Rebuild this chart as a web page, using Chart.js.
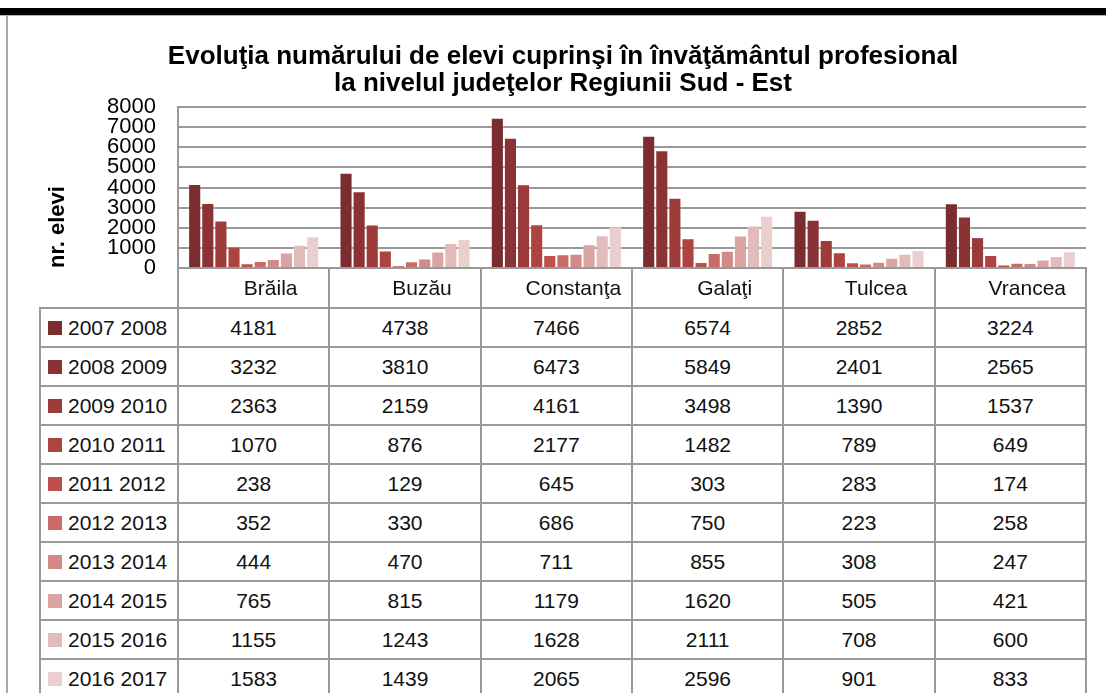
<!DOCTYPE html>
<html lang="ro">
<head>
<meta charset="utf-8">
<title>Evoluţia numărului de elevi</title>
<script src="https://cdn.jsdelivr.net/npm/chart.js@4.4.1/dist/chart.umd.min.js"></script>
<style>
  html, body { margin: 0; padding: 0; background: #fff; }
  #wrap { position: relative; width: 1106px; height: 693px; overflow: hidden; background: #fff; }
  #topbar { position: absolute; left: 0; top: 8px; width: 1106px; height: 7px; background: #000; }
  #topline { position: absolute; left: 0; top: 15px; width: 1106px; height: 1px; background: #b4b4b4; }
  #frame { position: absolute; left: 6px; top: 16px; width: 2px; height: 677px; background: #a8a8a8; }
  canvas { position: absolute; left: 0; top: 0; }
  #table { position: absolute; display: grid; gap: 2px; padding: 2px; background: #999; grid-auto-rows: 37px; }
  #table div { background: #fff; display: flex; align-items: center; justify-content: center;
               font: 21px 'Liberation Sans', Arial, sans-serif; color: #111; }
  #table div.key { justify-content: flex-start; padding-left: 7px; }
  #table span.sw { display: inline-block; width: 14px; height: 14px; margin-right: 6px; }
</style>
</head>
<body>
<div id="wrap">
  <canvas id="chart" width="1106" height="693"></canvas>
  <div id="topbar"></div>
  <div id="topline"></div>
  <div id="frame"></div>
  <div id="table"></div>
</div>
<script>
// Counties (categories)
const counties = ['Brăila', 'Buzău', 'Constanţa', 'Galaţi', 'Tulcea', 'Vrancea'];

// School years (series)
const years = ['2007 2008', '2008 2009', '2009 2010', '2010 2011', '2011 2012',
               '2012 2013', '2013 2014', '2014 2015', '2015 2016', '2016 2017'];

// Number of pupils per county, one array per school year
const y2007_2008 = [4181, 4738, 7466, 6574, 2852, 3224];
const y2008_2009 = [3232, 3810, 6473, 5849, 2401, 2565];
const y2009_2010 = [2363, 2159, 4161, 3498, 1390, 1537];
const y2010_2011 = [1070, 876, 2177, 1482, 789, 649];
const y2011_2012 = [238, 129, 645, 303, 283, 174];
const y2012_2013 = [352, 330, 686, 750, 223, 258];
const y2013_2014 = [444, 470, 711, 855, 308, 247];
const y2014_2015 = [765, 815, 1179, 1620, 505, 421];
const y2015_2016 = [1155, 1243, 1628, 2111, 708, 600];
const y2016_2017 = [1583, 1439, 2065, 2596, 901, 833];

const seriesValues = [y2007_2008, y2008_2009, y2009_2010, y2010_2011, y2011_2012,
                      y2012_2013, y2013_2014, y2014_2015, y2015_2016, y2016_2017];

// Y axis range
const yMin = 0;
const yMax = 8000;
const yStep = 1000;

// Colours, dark to light
const colors = ['#7b2c2e', '#8b3334', '#9d3b3a', '#ae4442', '#bf4f4c',
                '#c96b69', '#d38987', '#dba3a2', '#e2bcbb', '#e9d0cf'];

const gridColor = '#999999';

Chart.defaults.font.family = "'Liberation Sans', Arial, sans-serif";
Chart.defaults.color = '#000';

const datasets = years.map((label, i) => ({
    label: label,
    data: seriesValues[i],
    backgroundColor: colors[i],
    borderColor: 'rgba(255,255,255,0.25)',
    borderWidth: { left: 1, right: 1, top: 1, bottom: 0 },
    borderSkipped: 'bottom',
    categoryPercentage: 0.866,
    barPercentage: 1.0
}));

const chart = new Chart(document.getElementById('chart'), {
    type: 'bar',
    data: {
        labels: counties,
        datasets: datasets
    },
    options: {
        responsive: false,
        animation: false,
        devicePixelRatio: 1,
        layout: {
            padding: { left: 40, right: 20, top: 16, bottom: 0 }
        },
        plugins: {
            legend: { display: false },
            tooltip: { enabled: false },
            title: {
                display: true,
                text: ['Evoluţia numărului de elevi cuprinşi în învăţământul profesional',
                       'la nivelul judeţelor Regiunii Sud - Est'],
                color: '#000',
                font: { size: 26, weight: 'bold', lineHeight: 1.04 },
                padding: { top: 27, bottom: 10 }
            }
        },
        scales: {
            x: {
                grid: {
                    offset: true,
                    drawOnChartArea: false,
                    drawTicks: true,
                    tickLength: 40,
                    color: gridColor,
                    lineWidth: 2
                },
                border: { display: true, color: gridColor, width: 2 },
                ticks: {
                    font: { size: 21 },
                    color: '#111',
                    padding: -31,
                    labelOffset: 17,
                    autoSkip: false,
                    maxRotation: 0
                },
                afterFit: function(scale) {
                    scale.height = 425;
                }
            },
            y: {
                min: yMin,
                max: yMax,
                grid: {
                    color: gridColor,
                    lineWidth: 2,
                    drawTicks: false
                },
                border: { display: true, color: gridColor, width: 2 },
                ticks: {
                    stepSize: yStep,
                    autoSkip: false,
                    font: { size: 22 },
                    color: '#000',
                    padding: 22,
                    callback: function(value) {
                        return String(value);
                    }
                },
                title: {
                    display: true,
                    text: 'nr. elevi',
                    align: 'start',
                    font: { size: 22, weight: 'bold' },
                    color: '#000',
                    padding: { top: 5, bottom: 0 }
                },
                afterFit: function(scale) {
                    scale.width = 138;
                }
            }
        }
    }
});

// Data table under the axis, aligned to the chart's category scale
function buildTable() {
    const area = chart.chartArea;
    const xScale = chart.scales.x;
    const keyLeft = 40;
    const table = document.getElementById('table');
    const top = area.bottom + xScale.options.grid.tickLength;

    table.style.left = (keyLeft - 1) + 'px';
    table.style.top = (top - 1) + 'px';
    table.style.width = (area.right + 1 - (keyLeft - 1) - 4) + 'px';
    table.style.gridTemplateColumns = (area.left - keyLeft - 2) + 'px repeat(' + counties.length + ', 1fr)';

    years.forEach((year, i) => {
        const key = document.createElement('div');
        key.className = 'key';
        const sw = document.createElement('span');
        sw.className = 'sw';
        sw.style.background = colors[i];
        key.appendChild(sw);
        key.appendChild(document.createTextNode(year));
        table.appendChild(key);

        seriesValues[i].forEach(v => {
            const cell = document.createElement('div');
            cell.textContent = String(v);
            table.appendChild(cell);
        });
    });
}

buildTable();
</script>
</body>
</html>
